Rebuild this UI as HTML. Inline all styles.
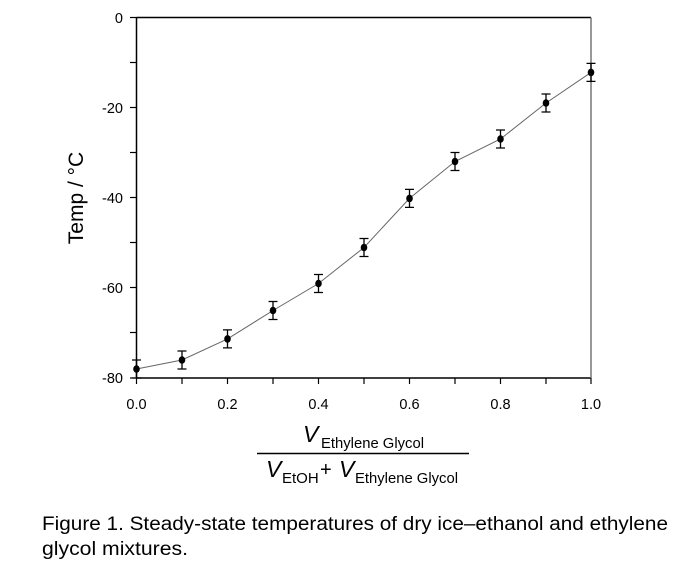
<!DOCTYPE html>
<html><head><meta charset="utf-8"><style>html,body{margin:0;padding:0;background:#fff}svg{display:block}</style></head>
<body>
<svg width="684" height="572" xmlns="http://www.w3.org/2000/svg" font-family="Liberation Sans, Arial, sans-serif">
<rect width="684" height="572" fill="#fff"/>
<g stroke="#000" stroke-width="1.5" fill="none">
<line x1="136.5" y1="17.5" x2="591" y2="17.5"/>
<line x1="136.5" y1="17.5" x2="136.5" y2="378"/>
<line x1="136.5" y1="378" x2="591" y2="378"/>
</g>
<line x1="591" y1="17.5" x2="591" y2="378" stroke="#777" stroke-width="1.5"/>
<g stroke="#000" stroke-width="1.2">
<line x1="130" y1="17.5" x2="136.5" y2="17.5"/>
<line x1="130" y1="62.5" x2="136.5" y2="62.5"/>
<line x1="130" y1="107.5" x2="136.5" y2="107.5"/>
<line x1="130" y1="152.5" x2="136.5" y2="152.5"/>
<line x1="130" y1="197.5" x2="136.5" y2="197.5"/>
<line x1="130" y1="242.5" x2="136.5" y2="242.5"/>
<line x1="130" y1="287.5" x2="136.5" y2="287.5"/>
<line x1="130" y1="332.5" x2="136.5" y2="332.5"/>
<line x1="130" y1="378" x2="136.5" y2="378"/>
<line x1="136.5" y1="378" x2="136.5" y2="384"/>
<line x1="182" y1="378" x2="182" y2="384"/>
<line x1="227.5" y1="378" x2="227.5" y2="384"/>
<line x1="273" y1="378" x2="273" y2="384"/>
<line x1="318.5" y1="378" x2="318.5" y2="384"/>
<line x1="364" y1="378" x2="364" y2="384"/>
<line x1="409.5" y1="378" x2="409.5" y2="384"/>
<line x1="455" y1="378" x2="455" y2="384"/>
<line x1="500.5" y1="378" x2="500.5" y2="384"/>
<line x1="546" y1="378" x2="546" y2="384"/>
<line x1="591" y1="378" x2="591" y2="384"/>
</g>
<g font-size="14.5" fill="#000" text-anchor="end">
<text x="123" y="23">0</text>
<text x="123" y="113">-20</text>
<text x="123" y="203">-40</text>
<text x="123" y="293">-60</text>
<text x="123" y="383">-80</text>
</g>
<g font-size="14.5" fill="#000" text-anchor="middle">
<text x="136.5" y="409">0.0</text>
<text x="227.5" y="409">0.2</text>
<text x="318.5" y="409">0.4</text>
<text x="409.5" y="409">0.6</text>
<text x="500.5" y="409">0.8</text>
<text x="591" y="409">1.0</text>
</g>
<text transform="translate(83,198) rotate(-90)" font-size="21" text-anchor="middle">Temp / °C</text>
<polyline fill="none" stroke="#666" stroke-width="1" points="136.5,369 182,360 227.5,338.9 273,310.5 318.5,283.5 364,247.5 409.5,198.4 455,161.5 500.5,139 546,103 591,72.4"/>
<g stroke="#000" stroke-width="1.3">
<path d="M136.5,360v18M132,360h9M132,378h9"/>
<path d="M182,351v18M177.5,351h9M177.5,369h9"/>
<path d="M227.5,329.9v18M223,329.9h9M223,347.9h9"/>
<path d="M273,301.5v18M268.5,301.5h9M268.5,319.5h9"/>
<path d="M318.5,274.5v18M314,274.5h9M314,292.5h9"/>
<path d="M364,238.5v18M359.5,238.5h9M359.5,256.5h9"/>
<path d="M409.5,189.4v18M405,189.4h9M405,207.4h9"/>
<path d="M455,152.5v18M450.5,152.5h9M450.5,170.5h9"/>
<path d="M500.5,130v18M496,130h9M496,148h9"/>
<path d="M546,94v18M541.5,94h9M541.5,112h9"/>
<path d="M591,63.4v18M586.5,63.4h9M586.5,81.4h9"/>
</g>
<g fill="#000">
<ellipse cx="136.5" cy="369" rx="3.3" ry="3.8"/>
<ellipse cx="182" cy="360" rx="3.3" ry="3.8"/>
<ellipse cx="227.5" cy="338.9" rx="3.3" ry="3.8"/>
<ellipse cx="273" cy="310.5" rx="3.3" ry="3.8"/>
<ellipse cx="318.5" cy="283.5" rx="3.3" ry="3.8"/>
<ellipse cx="364" cy="247.5" rx="3.3" ry="3.8"/>
<ellipse cx="409.5" cy="198.4" rx="3.3" ry="3.8"/>
<ellipse cx="455" cy="161.5" rx="3.3" ry="3.8"/>
<ellipse cx="500.5" cy="139" rx="3.3" ry="3.8"/>
<ellipse cx="546" cy="103" rx="3.3" ry="3.8"/>
<ellipse cx="591" cy="72.4" rx="3.3" ry="3.8"/>
</g>
<text x="303" y="442" font-size="23" font-style="italic">V</text>
<text x="321" y="448" font-size="15" textLength="103" lengthAdjust="spacingAndGlyphs">Ethylene Glycol</text>
<line x1="257" y1="453.5" x2="469" y2="453.5" stroke="#000" stroke-width="1.6"/>
<text x="266" y="477" font-size="23" font-style="italic">V</text>
<text x="282" y="483" font-size="15">EtOH</text>
<text x="320" y="476" font-size="20">+</text>
<text x="339" y="477" font-size="23" font-style="italic">V</text>
<text x="355" y="483" font-size="15" textLength="103" lengthAdjust="spacingAndGlyphs">Ethylene Glycol</text>
<text x="42" y="530" font-size="19" textLength="626" lengthAdjust="spacingAndGlyphs">Figure 1. Steady-state temperatures of dry ice–ethanol and ethylene</text>
<text x="42" y="555" font-size="19" textLength="146" lengthAdjust="spacingAndGlyphs">glycol mixtures.</text>
</svg>
</body></html>
